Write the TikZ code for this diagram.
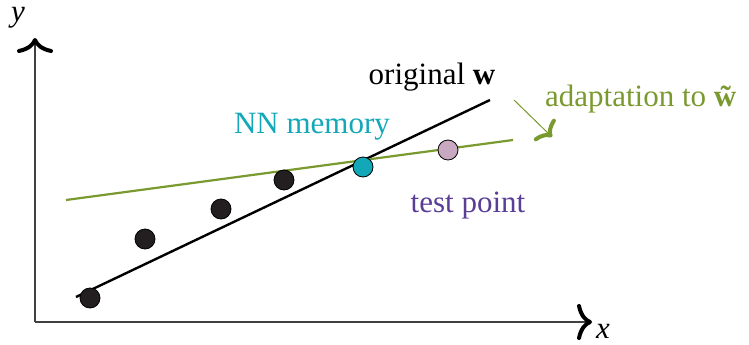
\documentclass[tikz,border=0pt]{standalone}
\usepackage{fontspec}
\setmainfont{Liberation Serif}
\usetikzlibrary{arrows.meta}
\definecolor{lgreen}{HTML}{7A9A30}
\definecolor{tealc}{HTML}{12A8B8}
\definecolor{purp}{HTML}{5A3E96}
\definecolor{pinkc}{HTML}{C9A9C2}
\definecolor{dotc}{HTML}{231F20}
\tikzset{
  axis/.style={line width=1.3pt, draw=black!75, -{Computer Modern Rightarrow[length=15pt,width=36pt,line width=4pt,black]}},
  dot/.style={circle, draw=black, line width=0.8pt, minimum size=20pt, inner sep=0pt},
  lbl/.style={font=\fontsize{31}{36}\selectfont, inner sep=0pt},
}
\begin{document}
\begin{tikzpicture}[x=1pt,y=-1pt]
\useasboundingbox (0,0) rectangle (749,345);
\coordinate (o) at (35,322);
\coordinate (ytop) at (35,38);
\coordinate (xend) at (592,322);
\draw[axis] (o) -- (ytop);
\draw[axis] (o) -- (xend);
\node[lbl, font=\fontsize{31}{36}\selectfont\itshape] (ylab) at (18,18) {y};
\node[lbl, font=\fontsize{31}{36}\selectfont\itshape] (xlab) at (603,331) {x};
% lines
\coordinate (b1) at (76,297);
\coordinate (b2) at (490,100);
\coordinate (g1) at (66,200);
\coordinate (g2) at (513,140);
\draw[line width=2.4pt, black] (b1) -- (b2);
\draw[line width=2.2pt, lgreen] (g1) -- (g2);
% dots
\node[dot, fill=dotc] (d1) at (90,298) {};
\node[dot, fill=dotc] (d2) at (145,239) {};
\node[dot, fill=dotc] (d3) at (221,209) {};
\node[dot, fill=dotc] (d4) at (284,180) {};
\node[dot, fill=tealc] (nn) at (363,167) {};
\node[dot, fill=pinkc] (tp) at (448,150) {};
% labels
\node[lbl] (orig) at (432,77) {original \textbf{w}};
\node[lbl, text=tealc] (nnl) at (312,127) {NN memory};
\node[lbl, text=purp] (tpl) at (468,206) {test point};
\node[lbl, text=lgreen, anchor=west] (adl) at (545,99) {adaptation to \textbf{\~{w}}};
\coordinate (a1) at (514,100);
\coordinate (a2) at (552,137);
\draw[line width=1pt, lgreen, -{Computer Modern Rightarrow[length=12pt,width=30pt,line width=4pt,lgreen]}] (a1) -- (a2);
\end{tikzpicture}
\end{document}
